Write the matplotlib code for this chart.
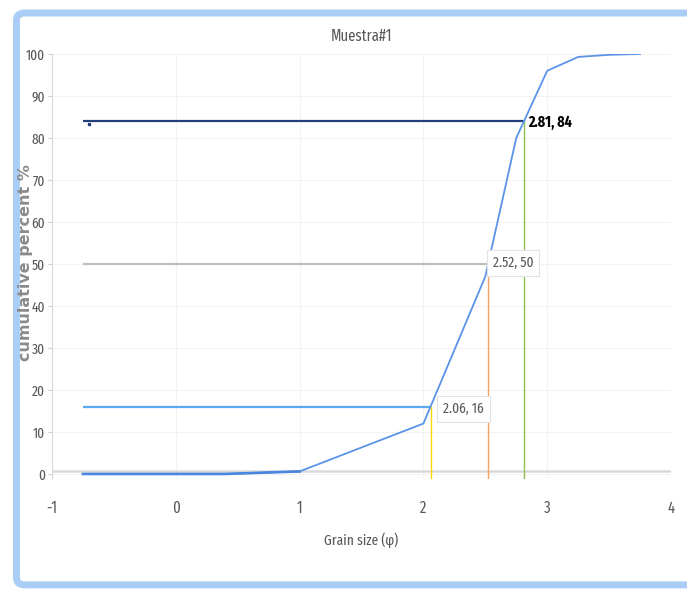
"""Cumulative grain-size curve (Muestra#1) with phi16 / phi50 / phi84 read-offs."""

import matplotlib
matplotlib.use('Agg')

import matplotlib.pyplot as plt
import matplotlib.patches as patches

# ── Data ──────────────────────────────────────────────────────────────────────
phi        = [-0.75, 0.0, 0.4, 1.0, 2.0, 2.5, 2.75, 3.0, 3.25, 3.5, 3.75]
cum_pct    = [0.0, 0.0, 0.0, 0.6, 12.0, 47.0, 80.0, 96.0, 99.3, 99.8, 100.0]

pct_levels = [16, 50, 84]
phi_at     = [2.06, 2.52, 2.81]
labels     = ['2.06, 16', '2.52, 50', '2.81, 84']

x_ticks = [-1, 0, 1, 2, 3, 4]
y_ticks = list(range(0, 101, 10))

# ── Styling ───────────────────────────────────────────────────────────────────
XNARROW = ['Fira Sans Extra Condensed', 'Roboto Condensed', 'DejaVu Sans']
TXT     = '#595959'
CURVE   = '#5b93e8'
H_COLS  = ['#5aa9f0', '#bfbfbf', '#24407a']
V_COLS  = ['#ffd700', '#f7a35c', '#8cc152']

fig = plt.figure(figsize=(6.87, 5.92), dpi=100)
fig.patch.set_facecolor('white')

# light blue frame round the whole chart (screenshot border)
frame = patches.FancyBboxPatch(
    (0.024, 0.012), 1.05, 0.966,
    boxstyle='round,pad=0,rounding_size=0.012',
    transform=fig.transFigure, facecolor='none',
    edgecolor='#aacdf5', linewidth=5, zorder=0
)
fig.patches.append(frame)

ax = fig.add_axes([0.0757, 0.1909, 0.9010, 0.7179])
ax.set_xlim(-1, 4)
ax.set_ylim(-1.2, 100)

ax.set_xticks(x_ticks)
ax.set_yticks(y_ticks)
ax.set_xticklabels([str(t) for t in x_ticks], family=XNARROW, fontsize=11.5, color=TXT)
ax.set_yticklabels([str(t) for t in y_ticks], family=XNARROW, fontsize=10.5, color=TXT)
ax.tick_params(axis='x', length=0, pad=15)
ax.tick_params(axis='y', length=3, color='#d0d0d0', pad=2)

ax.grid(True, color='#f3f3f3', linewidth=0.8)
ax.set_axisbelow(True)
for side in ['top', 'right', 'bottom']:
    ax.spines[side].set_visible(False)
ax.spines['left'].set_color('#d9d9d9')
ax.spines['left'].set_linewidth(0.8)
ax.axhline(0.6, color='#d9d9d9', linewidth=1.8, zorder=1)

# read-off lines
for lvl, xv, hc, vc in zip(pct_levels, phi_at, H_COLS, V_COLS):
    ax.plot([phi[0], xv], [lvl, lvl], color=hc, linewidth=1.6, zorder=3,
            solid_capstyle='butt')
    ax.plot([xv, xv], [-1.2, lvl], color=vc, linewidth=1.0, zorder=2)

ax.plot([phi[0] + 0.05], [83.3], marker='s', markersize=1.5, color='#24407a', zorder=4)

ax.plot(phi, cum_pct, color=CURVE, linewidth=1.3, zorder=4)
ax.plot(phi[:4], cum_pct[:4], color='#4a86e0', linewidth=1.9, zorder=4)

# point labels
box = dict(boxstyle='square,pad=0.4', facecolor='white', edgecolor='#e3e3e3', linewidth=0.8)
ax.text(phi_at[0] + 0.1, pct_levels[0] - 0.5, labels[0], family=XNARROW, fontsize=10.5,
        color=TXT, ha='left', va='center', bbox=box, zorder=5)
ax.text(phi_at[1] + 0.04, pct_levels[1] + 0.3, labels[1], family=XNARROW, fontsize=10.5,
        color=TXT, ha='left', va='center', bbox=box, zorder=5)
ax.text(phi_at[2] + 0.04, pct_levels[2] - 0.2, labels[2], family=XNARROW, fontsize=11,
        color='black', fontweight='bold', ha='left', va='center', zorder=5)

ax.set_title('Muestra#1', family=XNARROW, fontsize=11.5, color=TXT, pad=9)
ax.set_xlabel('Grain size (φ)', family=XNARROW, fontsize=10.5, color=TXT, labelpad=12)
fig.text(0.0365, 0.556, 'cumulative percent %', rotation=90, ha='center', va='center',
         fontsize=11.5, fontweight='bold', color='#8a8a8a', family='DejaVu Sans')

fig.savefig('out.png', dpi=100)
